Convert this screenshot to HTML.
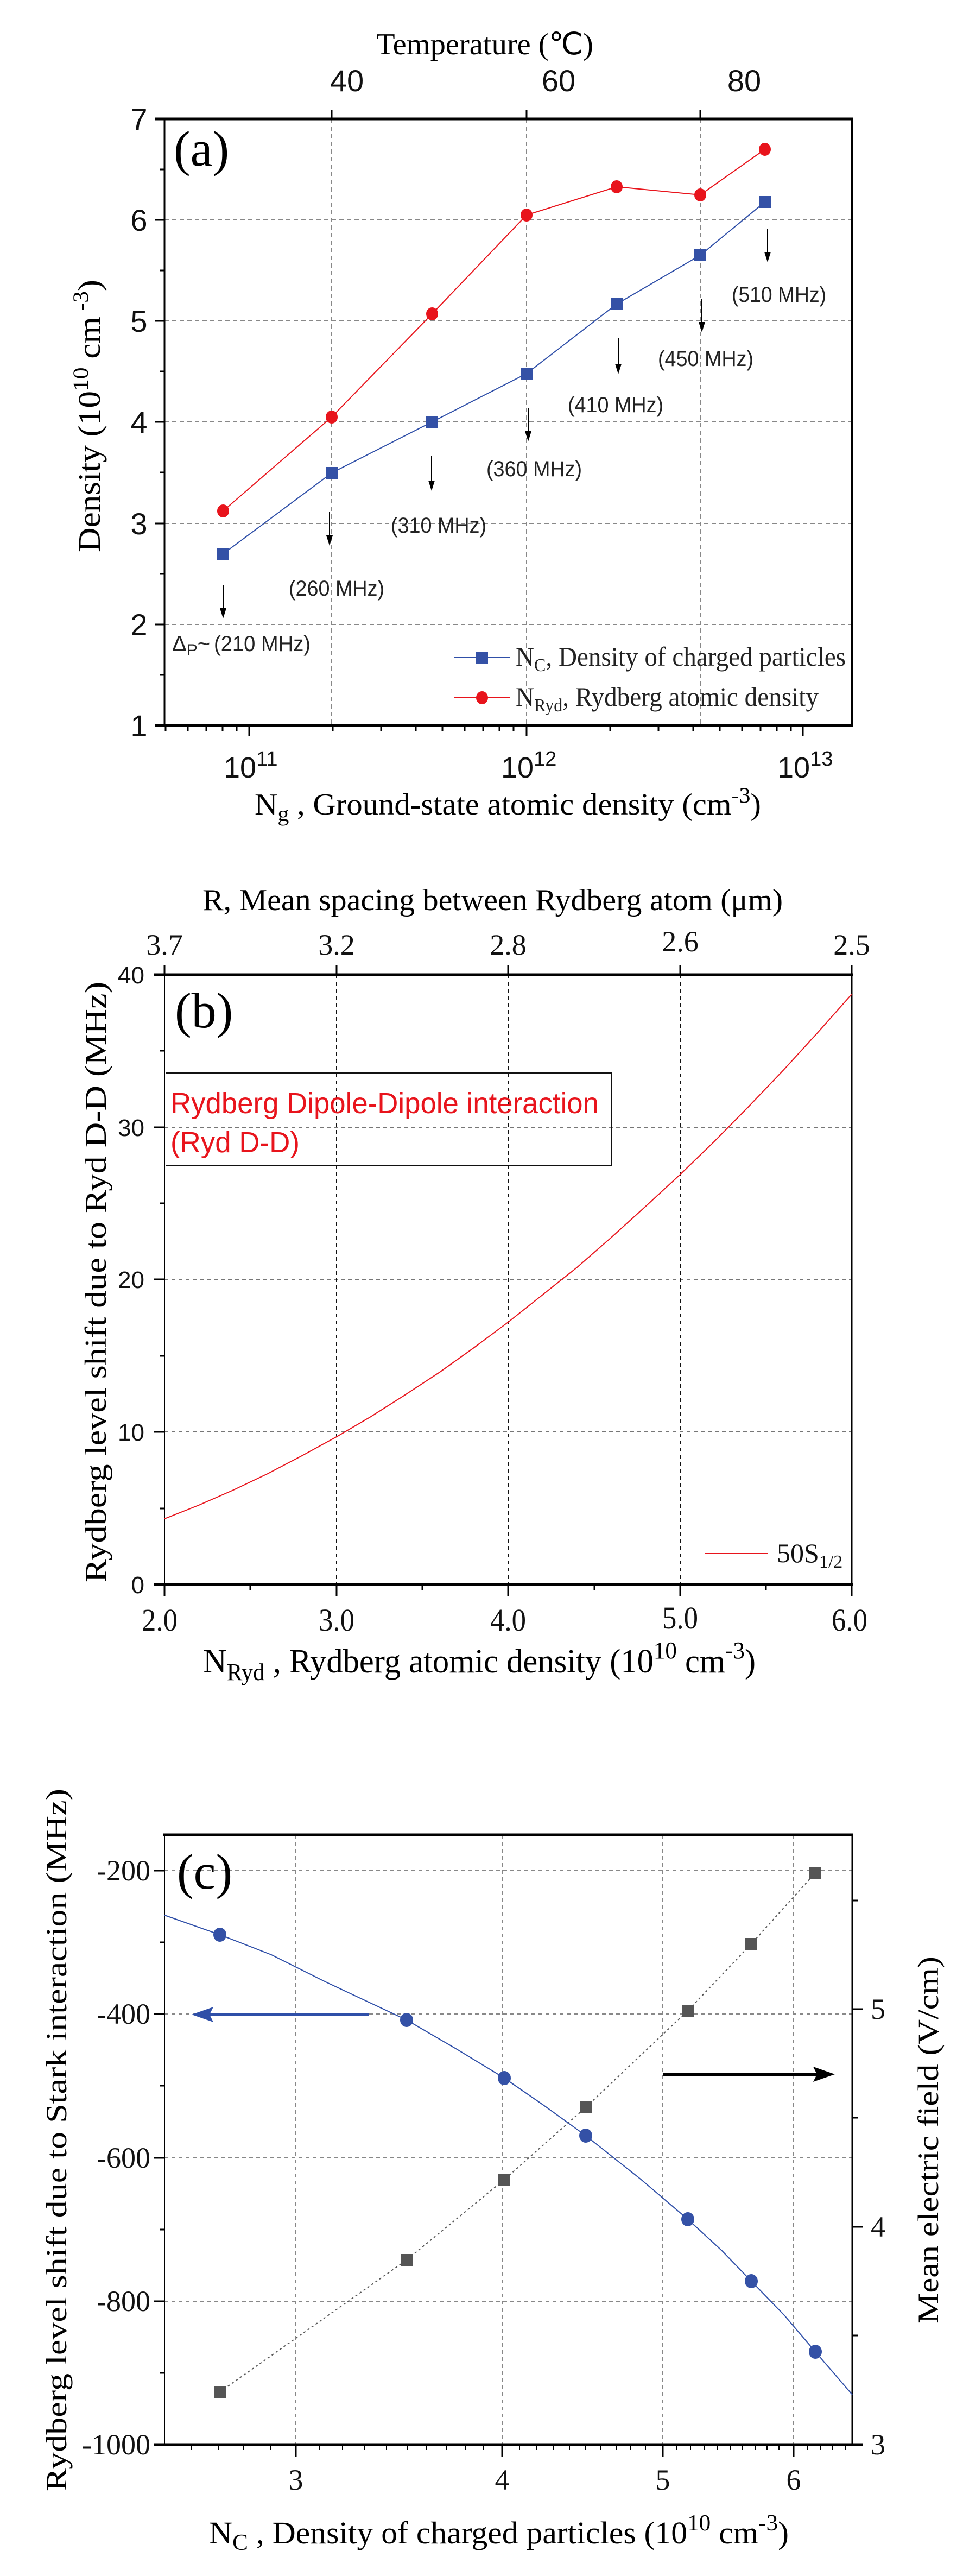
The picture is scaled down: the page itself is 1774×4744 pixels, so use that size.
<!DOCTYPE html>
<html><head><meta charset="utf-8"><style>
html,body{margin:0;padding:0;background:#fff;}
svg{display:block;}
.s{font-family:"Liberation Sans",sans-serif;}
.r{font-family:"Liberation Serif",serif;}
</style></head><body>
<svg width="1774" height="4744" viewBox="0 0 1774 4744" xmlns="http://www.w3.org/2000/svg">
<!-- ============ PANEL A ============ -->
<g>
<g stroke="#888" stroke-width="2" stroke-dasharray="8,6" fill="none">
<line x1="303" y1="1150" x2="1569" y2="1150"/>
<line x1="303" y1="964" x2="1569" y2="964"/>
<line x1="303" y1="777" x2="1569" y2="777"/>
<line x1="303" y1="591" x2="1569" y2="591"/>
<line x1="303" y1="405" x2="1569" y2="405"/>
<line x1="611" y1="219" x2="611" y2="1336"/>
<line x1="970" y1="219" x2="970" y2="1336"/>
<line x1="1290" y1="219" x2="1290" y2="1336"/>
</g>
<line x1="303" y1="219" x2="303" y2="1338" stroke="#000" stroke-width="3"/>
<line x1="1569" y1="219" x2="1569" y2="1338" stroke="#000" stroke-width="4"/>
<line x1="285" y1="219" x2="1571" y2="219" stroke="#000" stroke-width="5"/>
<line x1="285" y1="1336" x2="1571" y2="1336" stroke="#000" stroke-width="5"/>
<g stroke="#000" stroke-width="3">
<line x1="285" y1="1150" x2="303" y2="1150"/><line x1="285" y1="964" x2="303" y2="964"/>
<line x1="285" y1="777" x2="303" y2="777"/><line x1="285" y1="591" x2="303" y2="591"/>
<line x1="285" y1="405" x2="303" y2="405"/>
<line x1="294" y1="1243" x2="303" y2="1243"/><line x1="294" y1="1057" x2="303" y2="1057"/>
<line x1="294" y1="870" x2="303" y2="870"/><line x1="294" y1="684" x2="303" y2="684"/>
<line x1="294" y1="498" x2="303" y2="498"/><line x1="294" y1="312" x2="303" y2="312"/>
<line x1="611" y1="203" x2="611" y2="219"/><line x1="970" y1="203" x2="970" y2="219"/><line x1="1290" y1="203" x2="1290" y2="219"/>
<line x1="459" y1="1336" x2="459" y2="1356"/><line x1="970" y1="1336" x2="970" y2="1356"/><line x1="1479" y1="1336" x2="1479" y2="1356"/>
<line x1="305" y1="1336" x2="305" y2="1346"/><line x1="346" y1="1336" x2="346" y2="1346"/><line x1="380" y1="1336" x2="380" y2="1346"/><line x1="410" y1="1336" x2="410" y2="1346"/><line x1="436" y1="1336" x2="436" y2="1346"/>
<line x1="613" y1="1336" x2="613" y2="1346"/><line x1="702" y1="1336" x2="702" y2="1346"/><line x1="766" y1="1336" x2="766" y2="1346"/><line x1="815" y1="1336" x2="815" y2="1346"/><line x1="856" y1="1336" x2="856" y2="1346"/><line x1="890" y1="1336" x2="890" y2="1346"/><line x1="920" y1="1336" x2="920" y2="1346"/><line x1="946" y1="1336" x2="946" y2="1346"/>
<line x1="1124" y1="1336" x2="1124" y2="1346"/><line x1="1213" y1="1336" x2="1213" y2="1346"/><line x1="1277" y1="1336" x2="1277" y2="1346"/><line x1="1326" y1="1336" x2="1326" y2="1346"/><line x1="1367" y1="1336" x2="1367" y2="1346"/><line x1="1401" y1="1336" x2="1401" y2="1346"/><line x1="1431" y1="1336" x2="1431" y2="1346"/><line x1="1457" y1="1336" x2="1457" y2="1346"/>
</g>
<g class="s" font-size="56" text-anchor="middle" fill="#111">
<text x="256" y="1356">1</text><text x="256" y="1170">2</text><text x="256" y="984">3</text>
<text x="256" y="797">4</text><text x="256" y="611">5</text><text x="256" y="425">6</text><text x="256" y="239">7</text>
<text x="639" y="168">40</text><text x="1029" y="168">60</text><text x="1371" y="168">80</text>
</g>
<text class="r" x="893" y="100" font-size="56" text-anchor="middle" textLength="400" lengthAdjust="spacingAndGlyphs">Temperature (℃)</text>
<g class="s" font-size="54" fill="#111">
<text x="412" y="1432">10<tspan font-size="38" dy="-22">11</tspan></text>
<text x="923" y="1432">10<tspan font-size="38" dy="-22">12</tspan></text>
<text x="1432" y="1432">10<tspan font-size="38" dy="-22">13</tspan></text>
</g>
<text class="r" x="469" y="1500" font-size="56" textLength="933" lengthAdjust="spacingAndGlyphs">N<tspan font-size="40" dy="12">g</tspan><tspan dy="-12"> , Ground-state atomic density (cm</tspan><tspan font-size="40" dy="-22">-3</tspan><tspan dy="22">)</tspan></text>
<text class="r" transform="translate(184,766) rotate(-90)" font-size="58" text-anchor="middle" textLength="502" lengthAdjust="spacingAndGlyphs">Density (10<tspan font-size="40" dy="-22">10</tspan><tspan dy="22"> cm</tspan><tspan font-size="40" dy="-22"> -3</tspan><tspan dy="22">)</tspan></text>
<text class="r" x="320" y="305" font-size="92">(a)</text>
<polyline points="411,941 611,768 796,578 970,396 1136,344 1290,359 1409,275" fill="none" stroke="#e8141c" stroke-width="2"/>
<polyline points="411,1020 611,871 796,777 970,688 1136,560 1290,470 1409,372" fill="none" stroke="#2f4fa8" stroke-width="2"/>
<g fill="#e8141c">
<ellipse cx="411" cy="941" rx="11" ry="12"/><ellipse cx="611" cy="768" rx="11" ry="12"/><ellipse cx="796" cy="578" rx="11" ry="12"/><ellipse cx="970" cy="396" rx="11" ry="12"/><ellipse cx="1136" cy="344" rx="11" ry="12"/><ellipse cx="1290" cy="359" rx="11" ry="12"/><ellipse cx="1409" cy="275" rx="11" ry="12"/>
</g>
<g fill="#3451a6">
<rect x="400" y="1009" width="22" height="22"/><rect x="600" y="860" width="22" height="22"/><rect x="785" y="766" width="22" height="22"/><rect x="959" y="677" width="22" height="22"/><rect x="1125" y="549" width="22" height="22"/><rect x="1279" y="459" width="22" height="22"/><rect x="1398" y="361" width="22" height="22"/>
</g>
<g stroke="#000" stroke-width="2">
<line x1="411" y1="1077" x2="411" y2="1125"/><line x1="607" y1="943" x2="607" y2="991"/><line x1="795" y1="840" x2="795" y2="890"/><line x1="973" y1="751" x2="973" y2="799"/><line x1="1139" y1="622" x2="1139" y2="675"/><line x1="1293" y1="550" x2="1293" y2="598"/><line x1="1414" y1="421" x2="1414" y2="469"/>
</g>
<g fill="#000">
<polygon points="405,1120 417,1120 411,1139"/><polygon points="601,986 613,986 607,1005"/><polygon points="789,885 801,885 795,904"/><polygon points="967,794 979,794 973,813"/><polygon points="1133,670 1145,670 1139,689"/><polygon points="1287,593 1299,593 1293,612"/><polygon points="1408,464 1420,464 1414,483"/>
</g>
<g class="s" font-size="40" fill="#222">
<text x="317" y="1199">Δ<tspan font-size="30" dy="8">P</tspan><tspan dy="-8">~ </tspan></text>
<text x="394" y="1199" textLength="178" lengthAdjust="spacingAndGlyphs">(210 MHz)</text>
<text x="532" y="1097" textLength="176" lengthAdjust="spacingAndGlyphs">(260 MHz)</text>
<text x="720" y="981" textLength="176" lengthAdjust="spacingAndGlyphs">(310 MHz)</text>
<text x="896" y="877" textLength="176" lengthAdjust="spacingAndGlyphs">(360 MHz)</text>
<text x="1046" y="759" textLength="176" lengthAdjust="spacingAndGlyphs">(410 MHz)</text>
<text x="1212" y="674" textLength="176" lengthAdjust="spacingAndGlyphs">(450 MHz)</text>
<text x="1348" y="556" textLength="174" lengthAdjust="spacingAndGlyphs">(510 MHz)</text>
</g>
<line x1="837" y1="1211" x2="939" y2="1211" stroke="#2f4fa8" stroke-width="2"/>
<rect x="877" y="1200" width="22" height="22" fill="#3451a6"/>
<line x1="837" y1="1285" x2="939" y2="1285" stroke="#e8141c" stroke-width="2"/>
<ellipse cx="888" cy="1285" rx="11" ry="12" fill="#e8141c"/>
<g class="r" font-size="50" fill="#222">
<text x="950" y="1226" textLength="608" lengthAdjust="spacingAndGlyphs">N<tspan font-size="34" dy="10">C</tspan><tspan dy="-10">, Density of charged particles</tspan></text>
<text x="950" y="1300" textLength="558" lengthAdjust="spacingAndGlyphs">N<tspan font-size="34" dy="10">Ryd</tspan><tspan dy="-10">, Rydberg atomic density</tspan></text>
</g>
</g>

<!-- ============ PANEL B ============ -->
<g>
<g stroke="#777" stroke-width="2" stroke-dasharray="7,6">
<line x1="303" y1="2637" x2="1569" y2="2637"/><line x1="303" y1="2356" x2="1569" y2="2356"/><line x1="303" y1="2076" x2="1569" y2="2076"/>
</g>
<g stroke="#111" stroke-width="2" stroke-dasharray="7,6">
<line x1="620" y1="1795" x2="620" y2="2918"/><line x1="936" y1="1795" x2="936" y2="2918"/><line x1="1253" y1="1795" x2="1253" y2="2918"/>
</g>
<line x1="303" y1="1795" x2="303" y2="2918" stroke="#000" stroke-width="2"/>
<line x1="1569" y1="1795" x2="1569" y2="2918" stroke="#000" stroke-width="3"/>
<line x1="284" y1="1795" x2="1571" y2="1795" stroke="#000" stroke-width="5"/>
<line x1="284" y1="2918" x2="1571" y2="2918" stroke="#000" stroke-width="5"/>
<g stroke="#000" stroke-width="3">
<line x1="284" y1="2637" x2="303" y2="2637"/><line x1="284" y1="2356" x2="303" y2="2356"/><line x1="284" y1="2076" x2="303" y2="2076"/>
<line x1="294" y1="2778" x2="303" y2="2778"/><line x1="294" y1="2497" x2="303" y2="2497"/><line x1="294" y1="2216" x2="303" y2="2216"/><line x1="294" y1="1935" x2="303" y2="1935"/>
<line x1="303" y1="2918" x2="303" y2="2940"/><line x1="620" y1="2918" x2="620" y2="2940"/><line x1="936" y1="2918" x2="936" y2="2940"/><line x1="1253" y1="2918" x2="1253" y2="2940"/><line x1="1569" y1="2918" x2="1569" y2="2940"/>
<line x1="461" y1="2918" x2="461" y2="2929"/><line x1="778" y1="2918" x2="778" y2="2929"/><line x1="1095" y1="2918" x2="1095" y2="2929"/><line x1="1411" y1="2918" x2="1411" y2="2929"/>
<line x1="303" y1="1778" x2="303" y2="1795"/><line x1="620" y1="1778" x2="620" y2="1795"/><line x1="936" y1="1778" x2="936" y2="1795"/><line x1="1253" y1="1778" x2="1253" y2="1795"/><line x1="1569" y1="1778" x2="1569" y2="1795"/>
</g>
<g class="s" font-size="44" text-anchor="end" fill="#111">
<text x="266" y="2934">0</text><text x="266" y="2653">10</text><text x="266" y="2372">20</text><text x="266" y="2092">30</text><text x="266" y="1811">40</text>
</g>
<g class="r" font-size="54" text-anchor="middle" fill="#111">
<text x="303" y="1758">3.7</text><text x="620" y="1758">3.2</text><text x="936" y="1758">2.8</text><text x="1253" y="1752">2.6</text><text x="1569" y="1758">2.5</text>
</g>
<g class="r" font-size="58" text-anchor="middle" fill="#111">
<text x="294" y="3003" textLength="66" lengthAdjust="spacingAndGlyphs">2.0</text><text x="620" y="3003" textLength="66" lengthAdjust="spacingAndGlyphs">3.0</text><text x="936" y="3003" textLength="66" lengthAdjust="spacingAndGlyphs">4.0</text><text x="1253" y="2999" textLength="66" lengthAdjust="spacingAndGlyphs">5.0</text><text x="1565" y="3003" textLength="66" lengthAdjust="spacingAndGlyphs">6.0</text>
</g>
<text class="r" x="373" y="1676" font-size="56" textLength="1069" lengthAdjust="spacingAndGlyphs">R, Mean spacing between Rydberg atom (μm)</text>
<text class="r" x="374" y="3080" font-size="62" textLength="1018" lengthAdjust="spacingAndGlyphs">N<tspan font-size="44" dy="14">Ryd</tspan><tspan dy="-14"> , Rydberg atomic density (10</tspan><tspan font-size="44" dy="-26">10</tspan><tspan dy="26"> cm</tspan><tspan font-size="44" dy="-26">-3</tspan><tspan dy="26">)</tspan></text>
<text class="r" transform="translate(195,2361) rotate(-90)" font-size="56" text-anchor="middle" textLength="1106" lengthAdjust="spacingAndGlyphs">Rydberg level shift due to Ryd D-D (MHz)</text>
<text class="r" x="322" y="1892" font-size="92">(b)</text>
<polyline fill="none" stroke="#e8141c" stroke-width="2" points="303,2797 366,2772 430,2744 493,2714 556,2681 620,2646 683,2609 746,2569 810,2527 873,2482 936,2435 999,2385 1063,2334 1126,2279 1189,2222 1253,2163 1316,2102 1379,2038 1443,1971 1506,1902 1569,1831"/>
<polyline fill="none" stroke="#111" stroke-width="2" points="305,1976 1127,1976 1127,2147 305,2147"/>
<g class="s" font-size="54" fill="#e8141c">
<text x="314" y="2050" textLength="789" lengthAdjust="spacingAndGlyphs">Rydberg Dipole-Dipole interaction</text>
<text x="314" y="2122" textLength="238" lengthAdjust="spacingAndGlyphs">(Ryd D-D)</text>
</g>
<line x1="1298" y1="2861" x2="1414" y2="2861" stroke="#e8141c" stroke-width="2"/>
<text class="r" x="1431" y="2877" font-size="50" fill="#111">50S<tspan font-size="34" dy="10">1/2</tspan></text>
</g>

<!-- ============ PANEL C ============ -->
<g>
<g stroke="#888" stroke-width="2" stroke-dasharray="7,6">
<line x1="303" y1="3445" x2="1570" y2="3445"/><line x1="303" y1="3709" x2="1570" y2="3709"/><line x1="303" y1="3974" x2="1570" y2="3974"/><line x1="303" y1="4238" x2="1570" y2="4238"/>
<line x1="545" y1="3379" x2="545" y2="4502"/><line x1="925" y1="3379" x2="925" y2="4502"/><line x1="1221" y1="3379" x2="1221" y2="4502"/><line x1="1462" y1="3379" x2="1462" y2="4502"/>
</g>
<line x1="303" y1="3379" x2="303" y2="4502" stroke="#000" stroke-width="2"/>
<line x1="1570" y1="3379" x2="1570" y2="4502" stroke="#000" stroke-width="3"/>
<line x1="300" y1="3379" x2="1572" y2="3379" stroke="#000" stroke-width="5"/>
<line x1="283" y1="4502" x2="1590" y2="4502" stroke="#000" stroke-width="5"/>
<g stroke="#000" stroke-width="3">
<line x1="284" y1="3445" x2="303" y2="3445"/><line x1="284" y1="3709" x2="303" y2="3709"/><line x1="284" y1="3974" x2="303" y2="3974"/><line x1="284" y1="4238" x2="303" y2="4238"/>
<line x1="294" y1="3577" x2="303" y2="3577"/><line x1="294" y1="3841" x2="303" y2="3841"/><line x1="294" y1="4106" x2="303" y2="4106"/><line x1="294" y1="4370" x2="303" y2="4370"/>
<line x1="1570" y1="3700" x2="1589" y2="3700"/><line x1="1570" y1="4101" x2="1589" y2="4101"/>
<line x1="1570" y1="3500" x2="1580" y2="3500"/><line x1="1570" y1="3900" x2="1580" y2="3900"/><line x1="1570" y1="4301" x2="1580" y2="4301"/>
<line x1="545" y1="4502" x2="545" y2="4525"/><line x1="925" y1="4502" x2="925" y2="4525"/><line x1="1221" y1="4502" x2="1221" y2="4525"/><line x1="1462" y1="4502" x2="1462" y2="4525"/>
</g>
<g stroke="#000" stroke-width="2">
<line x1="352" y1="4502" x2="352" y2="4512"/><line x1="402" y1="4502" x2="402" y2="4512"/><line x1="449" y1="4502" x2="449" y2="4512"/><line x1="498" y1="4502" x2="498" y2="4512"/>
<line x1="588" y1="4502" x2="588" y2="4512"/><line x1="631" y1="4502" x2="631" y2="4512"/><line x1="672" y1="4502" x2="672" y2="4512"/><line x1="712" y1="4502" x2="712" y2="4512"/><line x1="750" y1="4502" x2="750" y2="4512"/><line x1="786" y1="4502" x2="786" y2="4512"/><line x1="822" y1="4502" x2="822" y2="4512"/><line x1="857" y1="4502" x2="857" y2="4512"/><line x1="891" y1="4502" x2="891" y2="4512"/>
<line x1="957" y1="4502" x2="957" y2="4512"/><line x1="988" y1="4502" x2="988" y2="4512"/><line x1="1019" y1="4502" x2="1019" y2="4512"/><line x1="1049" y1="4502" x2="1049" y2="4512"/><line x1="1078" y1="4502" x2="1078" y2="4512"/><line x1="1107" y1="4502" x2="1107" y2="4512"/><line x1="1135" y1="4502" x2="1135" y2="4512"/><line x1="1162" y1="4502" x2="1162" y2="4512"/><line x1="1189" y1="4502" x2="1189" y2="4512"/>
<line x1="1247" y1="4502" x2="1247" y2="4512"/><line x1="1272" y1="4502" x2="1272" y2="4512"/><line x1="1297" y1="4502" x2="1297" y2="4512"/><line x1="1321" y1="4502" x2="1321" y2="4512"/><line x1="1345" y1="4502" x2="1345" y2="4512"/><line x1="1368" y1="4502" x2="1368" y2="4512"/><line x1="1391" y1="4502" x2="1391" y2="4512"/><line x1="1413" y1="4502" x2="1413" y2="4512"/><line x1="1435" y1="4502" x2="1435" y2="4512"/>
<line x1="1488" y1="4502" x2="1488" y2="4512"/><line x1="1511" y1="4502" x2="1511" y2="4512"/><line x1="1534" y1="4502" x2="1534" y2="4512"/><line x1="1557" y1="4502" x2="1557" y2="4512"/>
</g>
<g class="r" font-size="54" text-anchor="end" fill="#111">
<text x="277" y="3463">-200</text><text x="277" y="3727">-400</text><text x="277" y="3992">-600</text><text x="277" y="4256">-800</text><text x="277" y="4520">-1000</text>
</g>
<g class="r" font-size="54" fill="#111">
<text x="1604" y="3718">5</text><text x="1604" y="4119">4</text><text x="1604" y="4520">3</text>
</g>
<g class="r" font-size="54" text-anchor="middle" fill="#111">
<text x="545" y="4585">3</text><text x="925" y="4585">4</text><text x="1221" y="4585">5</text><text x="1462" y="4585">6</text>
</g>
<text class="r" x="385" y="4684" font-size="58" textLength="1068" lengthAdjust="spacingAndGlyphs">N<tspan font-size="42" dy="12">C</tspan><tspan dy="-12"> , Density of charged particles (10</tspan><tspan font-size="42" dy="-24">10</tspan><tspan dy="24"> cm</tspan><tspan font-size="42" dy="-24">-3</tspan><tspan dy="24">)</tspan></text>
<text class="r" transform="translate(122,3941) rotate(-90)" font-size="54" text-anchor="middle" textLength="1294" lengthAdjust="spacingAndGlyphs">Rydberg level shift due to Stark interaction (MHz)</text>
<text class="r" transform="translate(1728,3941) rotate(-90)" font-size="54" text-anchor="middle" textLength="676" lengthAdjust="spacingAndGlyphs">Mean electric field (V/cm)</text>
<text class="r" x="326" y="3478" font-size="92">(c)</text>
<polyline fill="none" stroke="#555" stroke-width="2" stroke-dasharray="4,5" points="405,4405 749,4162 929,4014 1079,3881 1267,3703 1384,3580 1502,3449"/>
<polyline fill="none" stroke="#2f4fa8" stroke-width="2" points="303,3527 405,3563 500,3600 600,3650 749,3720 840,3773 929,3827 1000,3876 1079,3933 1180,4013 1267,4087 1330,4145 1384,4201 1445,4264 1502,4331 1570,4410"/>
<g fill="#555">
<rect x="394" y="4394" width="22" height="22"/><rect x="738" y="4151" width="22" height="22"/><rect x="918" y="4003" width="22" height="22"/><rect x="1068" y="3870" width="22" height="22"/><rect x="1256" y="3692" width="22" height="22"/><rect x="1373" y="3569" width="22" height="22"/><rect x="1491" y="3438" width="22" height="22"/>
</g>
<g fill="#3451a6">
<ellipse cx="405" cy="3563" rx="12" ry="13"/><ellipse cx="749" cy="3720" rx="12" ry="13"/><ellipse cx="929" cy="3827" rx="12" ry="13"/><ellipse cx="1079" cy="3933" rx="12" ry="13"/><ellipse cx="1267" cy="4087" rx="12" ry="13"/><ellipse cx="1384" cy="4201" rx="12" ry="13"/><ellipse cx="1502" cy="4331" rx="12" ry="13"/>
</g>
<line x1="679" y1="3710" x2="380" y2="3710" stroke="#2f4fa8" stroke-width="6"/>
<polygon points="353,3710 393,3696 386,3710 393,3724" fill="#2f4fa8"/>
<line x1="1221" y1="3820" x2="1510" y2="3820" stroke="#000" stroke-width="6"/>
<polygon points="1538,3820 1498,3806 1505,3820 1498,3834" fill="#000"/>
</g>
</svg>
</body></html>
